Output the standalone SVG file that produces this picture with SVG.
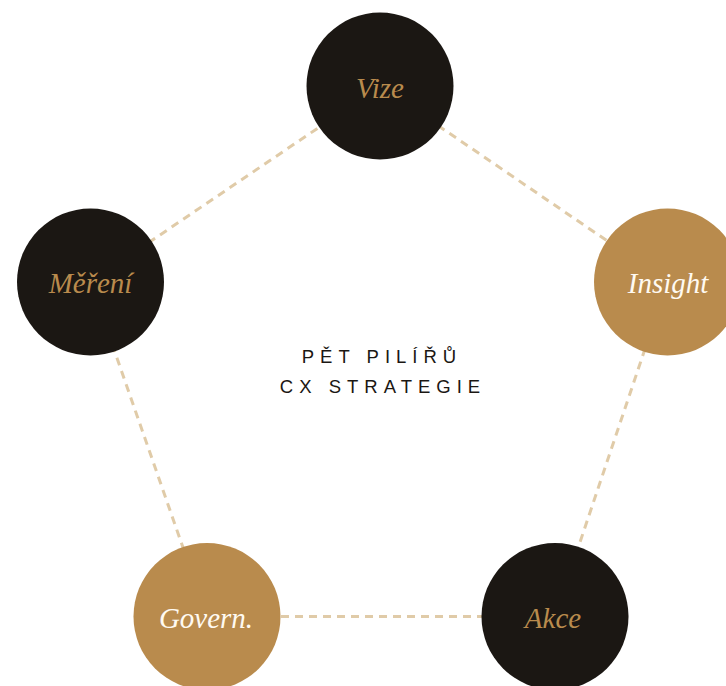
<svg xmlns="http://www.w3.org/2000/svg" width="726" height="686" viewBox="0 0 726 686">
<style>
.edge{stroke:#e0cba8;stroke-width:3;stroke-dasharray:8 6;fill:none}
.dark{fill:#1b1713}
.gold{fill:#b98b4d}
.lbl{font-family:"Liberation Serif","Times New Roman",serif;font-style:italic;font-size:29px;text-anchor:middle}
.ld{fill:#b98b4d}
.lg{fill:#fffaf2}
.title{font-family:"Liberation Sans",Arial,sans-serif;font-size:18.5px;letter-spacing:6px;fill:#1b1713;text-anchor:middle}
</style>
<rect width="726" height="686" fill="#ffffff"/>
<g id="connectors">
<line class="edge" x1="380" y1="86" x2="667.5" y2="282"/>
<line class="edge" x1="667.5" y1="282" x2="555" y2="616.5"/>
<line class="edge" x1="555" y1="616.5" x2="207" y2="616.5"/>
<line class="edge" x1="207" y1="616.5" x2="90.5" y2="282"/>
<line class="edge" x1="90.5" y1="282" x2="380" y2="86"/>
</g>
<g id="node-vize">
<circle class="dark" cx="380" cy="86" r="73.5"/>
<text class="lbl ld" x="380" y="98">Vize</text>
</g>
<g id="node-insight">
<circle class="gold" cx="667.5" cy="282" r="73.5"/>
<text class="lbl lg" x="668" y="293">Insight</text>
</g>
<g id="node-akce">
<circle class="dark" cx="555" cy="616.5" r="73.5"/>
<text class="lbl ld" x="553" y="627.5">Akce</text>
</g>
<g id="node-govern">
<circle class="gold" cx="207" cy="616.5" r="73.5"/>
<text class="lbl lg" x="206" y="627.5">Govern.</text>
</g>
<g id="node-mereni">
<circle class="dark" cx="90.5" cy="282" r="73.5"/>
<text class="lbl ld" x="90.5" y="293">Měření</text>
</g>
<g id="title">
<text class="title" x="382" y="363">PĚT PILÍŘŮ</text>
<text class="title" x="383" y="393">CX STRATEGIE</text>
</g>
</svg>
